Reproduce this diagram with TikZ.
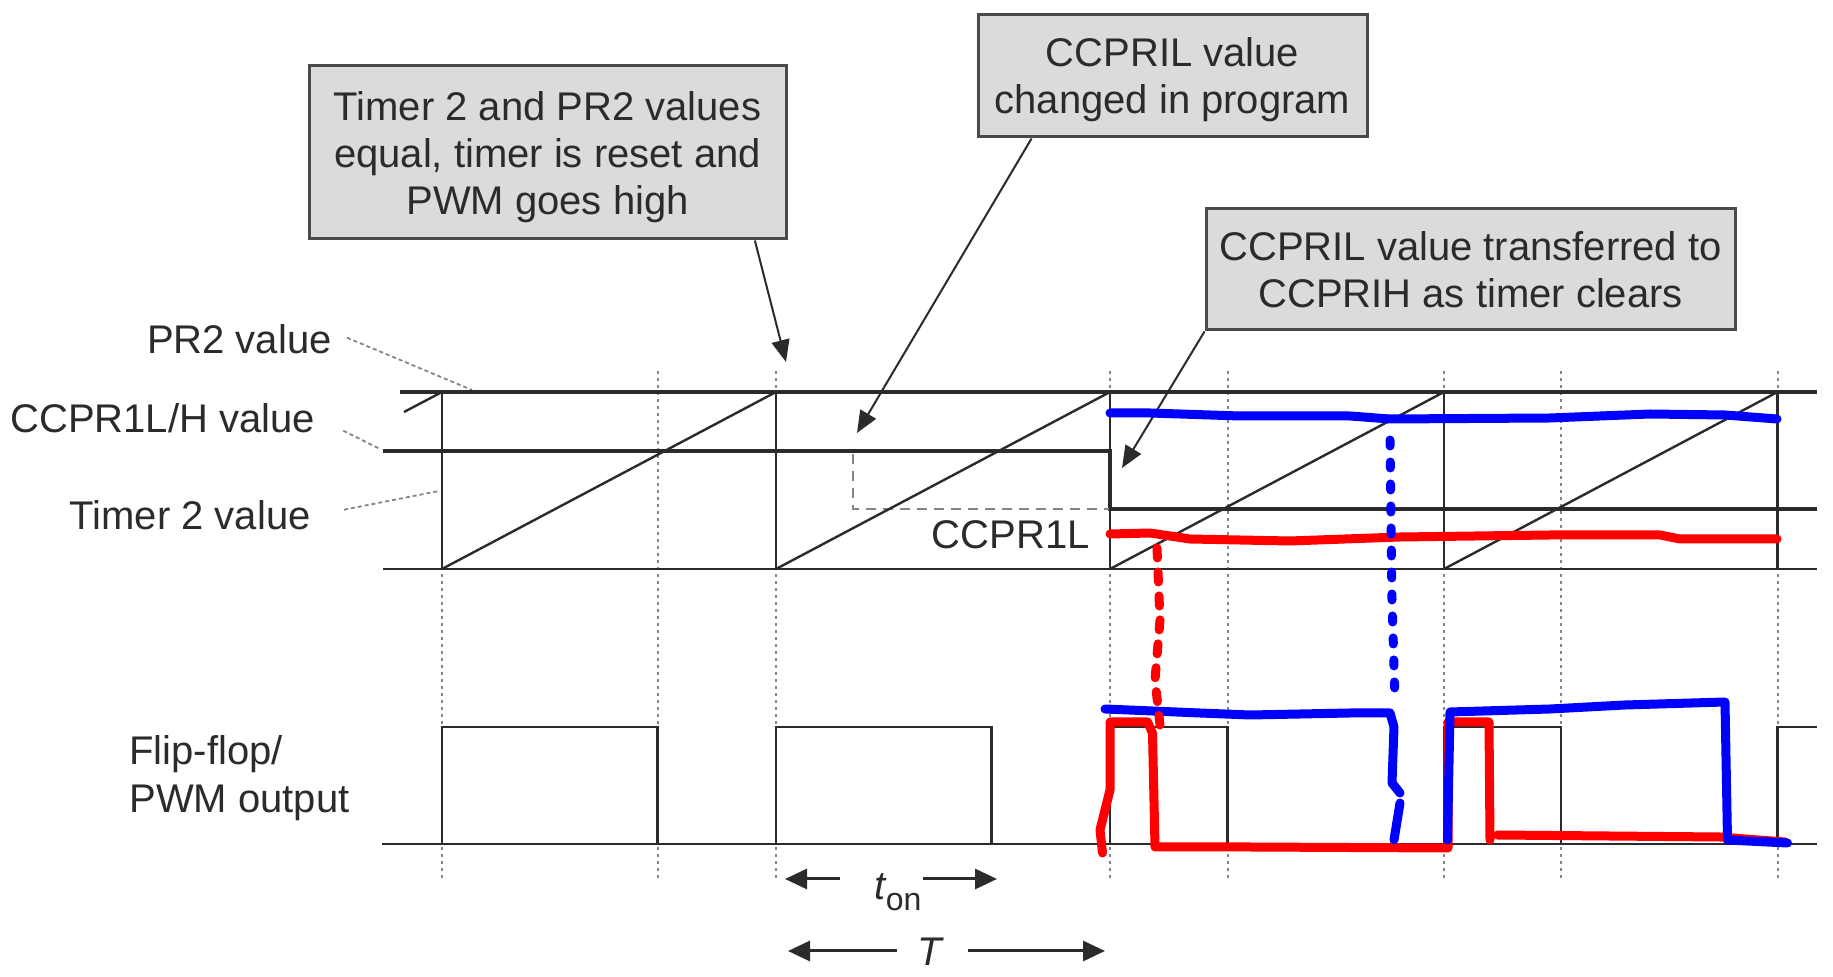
\documentclass[tikz,border=0pt]{standalone}
\usepackage{fontspec}
\setmainfont{Liberation Sans}
\usetikzlibrary{arrows.meta}
\definecolor{ink}{HTML}{2B2B2B}
\definecolor{boxfill}{HTML}{DADBDD}
\definecolor{boxline}{HTML}{4A4A4A}
\definecolor{guide}{HTML}{858585}
\definecolor{penred}{HTML}{FF0000}
\definecolor{penblue}{HTML}{0000FF}
\begin{document}
\begin{tikzpicture}[x=0.5pt,y=-0.5pt,
  lbl/.style={font=\fontsize{20}{23.5}\selectfont, text=ink, inner sep=0pt},
  callout/.style={draw=boxline, line width=1.5pt, fill=boxfill, align=center, inner sep=0pt, font=\fontsize{20}{23.5}\selectfont, text=ink},
  pointer/.style={draw=ink, line width=1pt, -{Triangle[length=11pt,width=9pt]}},
  dimarrow/.style={draw=ink, line width=1.5pt, -{Triangle[length=11pt,width=10pt]}},
  guideline/.style={draw=guide, line width=1pt, dash pattern=on 1.5pt off 2pt},
  leader/.style={draw=guide, line width=0.9pt, dash pattern=on 2pt off 1.5pt},
  oldlevel/.style={draw=guide, line width=1.2pt, dash pattern=on 5pt off 3.5pt},
  level/.style={draw=ink, line width=2pt},
  thinline/.style={draw=ink, line width=1.3pt},
  ramp/.style={draw=ink, line width=1.2pt},
  pen/.style={line width=4.5pt, line cap=round, line join=round},
]
\fill[white] (0,0) rectangle (1833,977);
\useasboundingbox (0,0) rectangle (1833,977);

% guide verticals
\draw[guideline] (442,392) -- (442,880);
\foreach \gx in {657.5,776,1110,1227.5,1444,1561,1777.5}
  \draw[guideline] (\gx,371) -- (\gx,880);

% callouts
\node[callout, minimum width=238.5pt, minimum height=86.5pt] (box1) at (547.5,152.5)
  {\rule{0pt}{19.6pt}Timer 2 and PR2 values\\equal, timer is reset and\\PWM goes high};
\node[callout, minimum width=194.5pt, minimum height=61.25pt] (box2) at (1172.5,75.75)
  {\rule{0pt}{18.6pt}CCPRIL value\\changed in program};
\node[callout, minimum width=264.5pt, minimum height=60.7pt] (box3) at (1470.5,269.3)
  {CCPRIL value transferred to\\CCPRIH as timer clears};

\coordinate (tip1) at (786,362);
\coordinate (tip2) at (857,433);
\coordinate (tip3) at (1122,468);
\draw[pointer] (box1.-23.2) -- (tip1);
\draw[pointer] (box2.-156.3) -- (tip2);
\draw[pointer] (box3.south west) -- (tip3);

% labels
\node[lbl, anchor=base east] (lpr2) at (332,354) {PR2 value};
\node[lbl, anchor=base west] (lccpr) at (10,433) {CCPR1L/H value};
\node[lbl, anchor=base east] (ltmr) at (311,530) {Timer 2 value};
\node[lbl, anchor=base west] (lff) at (129,765) {Flip-flop/};
\node[lbl, anchor=base west] (lpwm) at (129,813) {PWM output};
\node[lbl, anchor=base east] (lccpr1l) at (1090,549) {CCPR1L};

\draw[leader] ([xshift=7.5pt,yshift=1pt]lpr2.east) -- (472,390);
\draw[leader] ([xshift=14pt,yshift=-6pt]lccpr.east) -- (380,449);
\draw[leader] ([xshift=16.5pt,yshift=3pt]ltmr.east) -- (439,491);

% timer section
\draw[level] (400,392) -- (1817,392);
\draw[level] (383,451) -- (1110,451) -- (1110,509) -- (1817,509);
\draw[oldlevel] (853,454) -- (853,509) -- (1110,509);
\draw[thinline] (383,569) -- (1817,569);
\draw[ramp] (404,412) -- (442,392);
\foreach \ra/\rb in {442/776,776/1110,1110/1444,1444/1777.5}
  \draw[ramp] (\ra,569) -- (\rb,392);
\foreach \rx in {442,776,1110,1444,1777.5}
  \draw[thinline] (\rx,392) -- (\rx,569);

% PWM output
\draw[thinline] (382,844) -- (1817,844);
\foreach \pa/\pb in {442/657.5,776/991.5,1110/1227.5,1444/1561}
  \draw[thinline] (\pa,844) -- (\pa,727) -- (\pb,727) -- (\pb,844);
\draw[thinline] (1777.5,844) -- (1777.5,727) -- (1817,727);

% t_on and T
\node[lbl, anchor=base] (ton) at (898,900) {\itshape t\raisebox{-5.5pt}{\upshape\fontsize{16}{16}\selectfont on}};
\node[lbl, anchor=base] (tper) at (930,966) {\itshape T};
\coordinate (tonLs) at (840,879); \coordinate (tonL) at (785,879);
\coordinate (tonRs) at (923,879); \coordinate (tonR) at (997,879);
\coordinate (tLs) at (897,951); \coordinate (tL) at (788,951);
\coordinate (tRs) at (968,951); \coordinate (tR) at (1105,951);
\draw[dimarrow] (tonLs) -- (tonL);
\draw[dimarrow] (tonRs) -- (tonR);
\draw[dimarrow] (tLs) -- (tL);
\draw[dimarrow] (tRs) -- (tR);

% hand-drawn overlays
\draw[pen, penred] (1110,534) -- (1150,533) -- (1190,539) -- (1290,541) -- (1400,537) -- (1550,535) -- (1660,535) -- (1680,539) -- (1777,539);
\draw[pen, penblue] (1110,413) -- (1150,413) -- (1240,416) -- (1350,416) -- (1390,419) -- (1550,418) -- (1650,414) -- (1725,415) -- (1777,419);
\draw[pen, penred] (1102.5,853) -- (1100,830) -- (1110,790) -- (1110,722) -- (1147.5,722) -- (1152.5,733) -- (1155,847) -- (1250,847) -- (1448,848) -- (1448,722) -- (1489,722) -- (1490,840);
\draw[pen, penred] (1497.5,835) -- (1720,837) -- (1785,842);
\draw[pen, penblue] (1105,709) -- (1200,713) -- (1250,715) -- (1350,713) -- (1390,713) -- (1394,727) -- (1392,783) -- (1400,793);
\draw[pen, penblue] (1400,803) -- (1394,840);
\draw[pen, penblue] (1447.5,840) -- (1450,712) -- (1550,709) -- (1625,705) -- (1725,702) -- (1727.5,840) -- (1787.5,843);
\draw[pen, penblue, dash pattern=on 3pt off 8pt] (1390,440) -- (1392,600) -- (1395,700);
\draw[pen, penred, dash pattern=on 5pt off 7pt] (1157,548) -- (1160,620) -- (1155,680) -- (1160,725);
\end{tikzpicture}
\end{document}
